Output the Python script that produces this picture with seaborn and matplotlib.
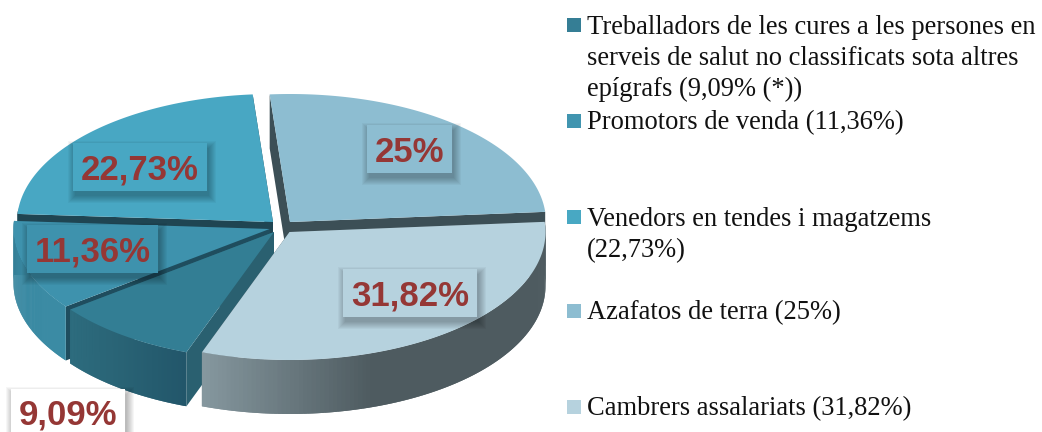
import numpy as np
import matplotlib
matplotlib.use('Agg')
import matplotlib.pyplot as plt
from matplotlib.patches import Rectangle
import seaborn as sns

# Data, in legend order
shares = [9.09, 11.36, 22.73, 25, 31.82]
value_labels = ['9,09%', '11,36%', '22,73%', '25%', '31,82%']
legend_labels = [
    'Treballadors de les cures a les persones en\nserveis de salut no classificats sota altres\nepígrafs (9,09% (*))',
    'Promotors de venda (11,36%)',
    'Venedors en tendes i magatzems\n(22,73%)',
    'Azafatos de terra (25%)',
    'Cambrers assalariats (31,82%)',
]

# Colours per slice
top_colors = ['#337e94', '#3e92ad', '#48a7c3', '#8dbdd1', '#b6d2de']
legend_colors = ['#357e95', '#4195b0', '#48a8c3', '#8dbdd1', '#b6d2de']
cut_colors = ['#2a6070', '#1f4d5e', '#1f4552', '#3c4f56', '#4e5b60']
# wall colours run from the left end of the arc to the right end
wall_stops = [
    ['#2d6c7e', '#296375', '#22566a'],
    ['#37839b', '#3a8aa3', '#3b8ba4'],
    ['#1f4552', '#1f4552'],
    ['#3c4f56', '#3c4f56'],
    ['#85979e', '#4e5b60', '#4e5b60', '#4f5c61'],
]

# Layout, in pixels
apexes = [(274, 232), (269.5, 229), (273, 222), (290, 222), (289.5, 232)]
label_boxes = [(11, 389, 114, 50), (27, 225, 131, 48), (73, 143, 134, 48), (367, 125, 85, 48), (343, 269, 134, 48)]
legend_y = [25, 121, 217, 311, 407]
RX, RY, DEPTH = 256, 128, 54
START_ANGLE = 250
LINE_STEP = 31.5

sns.set_theme(style='white')
plt.rcParams['font.family'] = ['Liberation Serif', 'DejaVu Serif']

fig = plt.figure(figsize=(10.42, 4.32), dpi=100)
ax = fig.add_axes([0, 0, 1, 1])
ax.set_xlim(0, 1042)
ax.set_ylim(432, 0)
ax.axis('off')

edges = START_ANGLE - 3.6 * np.concatenate([[0], np.cumsum(shares)])


def arc(apex, t0, t1, n=120):
    t = np.radians(np.linspace(t0, t1, n))
    return t, apex[0] + RX * np.cos(t), apex[1] - RY * np.sin(t)


def draw_slice(i):
    apex = apexes[i]
    t, x, y = arc(apex, edges[i], edges[i + 1])

    # cut faces, from the apex to each end of the arc
    for xe, ye in [(x[0], y[0]), (x[-1], y[-1])]:
        ax.fill([apex[0], xe, xe, apex[0]], [apex[1], ye, ye + DEPTH, apex[1] + DEPTH],
                color=cut_colors[i], lw=0)

    # outer wall: quads overlap the next step so no seams show. arcs run right to left
    pal = sns.blend_palette(wall_stops[i], n_colors=len(x) - 1)[::-1]
    for k in range(len(x) - 1):
        if np.sin(t[k]) > 0.09:
            continue
        e = min(k + 2, len(x) - 1)
        ax.fill([x[k], x[e], x[e], x[k]], [y[k], y[e], y[e] + DEPTH, y[k] + DEPTH],
                color=pal[k], lw=0)

    # top face
    ax.fill(np.r_[apex[0], x], np.r_[apex[1], y], color=top_colors[i], lw=0)


# back to front
for i in [3, 2, 1, 0, 4]:
    draw_slice(i)

# value labels with a soft shadow
for i, (bx, by, bw, bh) in enumerate(label_boxes):
    for grow in np.arange(7, -1, -1):
        ax.add_patch(Rectangle((bx + 2 - grow, by + 5 - grow), bw + 2 * grow, bh + 2 * grow,
                               facecolor='black', alpha=0.035, lw=0))
    box_color = 'white' if i == 0 else top_colors[i]
    ax.add_patch(Rectangle((bx, by), bw, bh, facecolor=box_color, lw=0))
    ty = 415 if i == 0 else by + bh / 2 + 3
    ax.text(bx + bw / 2, ty, value_labels[i], ha='center', va='center', color='#953735',
            fontsize=25, fontweight='bold', family=['Liberation Sans', 'DejaVu Sans'])

# legend
for i, label in enumerate(legend_labels):
    ax.add_patch(Rectangle((567, legend_y[i] - 7), 14, 14, facecolor=legend_colors[i], lw=0))
    for j, line in enumerate(label.split('\n')):
        ax.text(587, legend_y[i] + 8.5 + j * LINE_STEP, line, ha='left', va='baseline',
                color='#111111', fontsize=19.1)

fig.savefig('out.png', dpi=100)
